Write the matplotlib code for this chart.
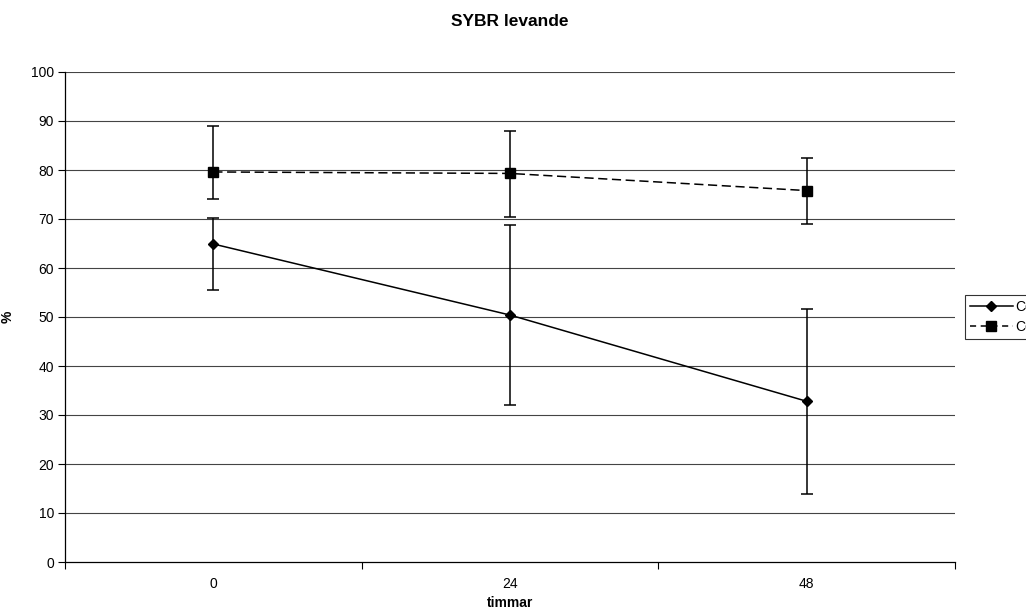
import matplotlib
matplotlib.use("Agg")
import matplotlib.pyplot as plt
from matplotlib.lines import Line2D
import numpy as np

categories = ["0", "24", "48"]
series1_label = "Cd"
series1 = [64.9, 50.4, 32.8]
series1_err_low = [9.4, 18.3, 18.9]
series1_err_high = [5.4, 18.4, 18.8]
series2_label = "Control"
series2 = [79.6, 79.3, 75.8]
series2_err_low = [5.5, 8.8, 6.9]
series2_err_high = [9.4, 8.7, 6.7]
yticks = [0, 10, 20, 30, 40, 50, 60, 70, 80, 90, 100]

plt.rcParams['font.family'] = ['Liberation Sans', 'DejaVu Sans']

fig = plt.figure(figsize=(10.26, 6.12), dpi=100)
ax = fig.add_axes([65/1026, 1-562/612, 890/1026, 490/612])

x = np.arange(len(categories))
for yv in yticks[1:]:
    ax.axhline(yv, color='#444444', lw=0.8, zorder=0)

dash = (0, (6, 3))
ax.errorbar(x, series1, yerr=[series1_err_low, series1_err_high], color='black',
            lw=1.1, marker='D', ms=5.5, capsize=4, elinewidth=1.1, capthick=1.1,
            zorder=3)
ax.errorbar(x, series2, yerr=[series2_err_low, series2_err_high], color='black',
            lw=1.1, ls=dash, marker='s', ms=6.5, capsize=4, elinewidth=1.1,
            capthick=1.1, zorder=3)

ax.set_xlim(-0.5, len(categories) - 0.5)
ax.set_ylim(0, 100)
ax.set_yticks(yticks)
ax.set_xticks(x)
ax.set_xticklabels(categories)
ax.set_xticks(np.arange(len(categories) + 1) - 0.5, minor=True)
ax.tick_params(axis='x', which='major', length=0, pad=11, labelsize=10)
ax.tick_params(axis='x', which='minor', length=5, direction='out', width=0.8)
ax.tick_params(axis='y', length=5, direction='out', width=0.8, labelsize=10, pad=3)
for s in ['top', 'right']:
    ax.spines[s].set_visible(False)
ax.spines['left'].set_linewidth(0.9)
ax.spines['bottom'].set_linewidth(0.9)

ax.set_title("SYBR levande", fontsize=12.5, fontweight='bold', pad=33)
ax.set_xlabel("timmar", fontsize=10, fontweight='bold', va='center')
ax.xaxis.set_label_coords(0.5, -(603 - 562) / 490)
ax.set_ylabel("%", fontsize=10, fontweight='bold')
ax.yaxis.set_label_coords(-50/890, 0.5)

handles = [Line2D([], [], color='black', lw=1.1, marker='D', ms=5.5),
           Line2D([], [], color='black', lw=1.1, ls=(0, (4, 3)), marker='s', ms=6.5)]
leg = ax.legend(handles, [series1_label, series2_label], loc='center left',
                bbox_to_anchor=(1.011, 0.5), frameon=True,
                fancybox=False, edgecolor='black', fontsize=10, handlelength=3.1,
                borderaxespad=0, handletextpad=0.2, borderpad=0.35,
                labelspacing=0.45)
leg.get_frame().set_linewidth(0.8)

fig.savefig("out.png", dpi=100)
